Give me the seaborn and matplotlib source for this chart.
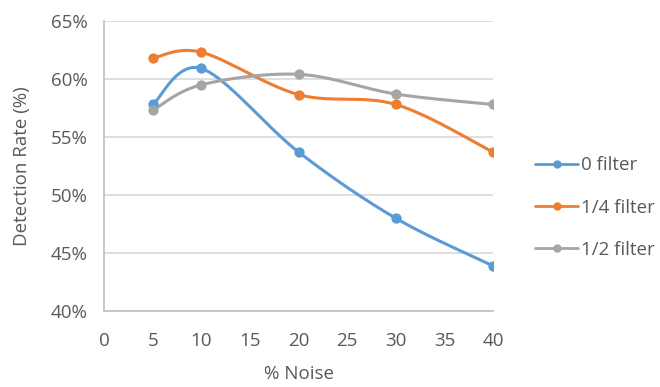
import numpy as np
import pandas as pd
import matplotlib
matplotlib.use("Agg")
import matplotlib.pyplot as plt
from matplotlib.lines import Line2D
import seaborn as sns

noise = [5, 10, 20, 30, 40]
filter_0 = [57.8, 60.9, 53.7, 48.0, 43.9]
filter_quarter = [61.8, 62.3, 58.65, 57.8, 53.7]
filter_half = [57.3, 59.5, 60.4, 58.7, 57.8]
series_names = ["0 filter", "1/4 filter", "1/2 filter"]
colors = ["#5B9BD5", "#ED7D31", "#A5A5A5"]
y_ticks = [40, 45, 50, 55, 60, 65]
x_ticks = [0, 5, 10, 15, 20, 25, 30, 35, 40]


def smooth(xs, ys, n=40):
    """Excel-like smoothed line: cubic Bezier segments with 1/6 tangents."""
    P = np.column_stack([xs, ys]).astype(float)
    out = []
    m = len(P)
    for i in range(m - 1):
        p0 = P[i - 1] if i > 0 else P[i]
        p1 = P[i]
        p2 = P[i + 1]
        p3 = P[i + 2] if i + 2 < m else P[i + 1]
        c1 = p1 + (p2 - p0) / 6.0
        c2 = p2 - (p3 - p1) / 6.0
        t = np.linspace(0, 1, n)[:, None]
        seg = ((1 - t) ** 3) * p1 + 3 * ((1 - t) ** 2) * t * c1 + 3 * (1 - t) * t ** 2 * c2 + t ** 3 * p2
        if i > 0:
            seg = seg[1:]
        out.append(seg)
    out = np.vstack(out)
    return out[:, 0], out[:, 1]


sns.set_theme(style="white")
plt.rcParams["font.family"] = ["Open Sans", "DejaVu Sans"]

fig = plt.figure(figsize=(6.6, 3.87), dpi=100)
ax = fig.add_axes([0.158, 0.196, 0.589, 0.75])

handles = []
for name, vals, col in zip(series_names, [filter_0, filter_quarter, filter_half], colors):
    sx, sy = smooth(noise, vals)
    df = pd.DataFrame({"x": sx, "y": sy})
    sns.lineplot(data=df, x="x", y="y", ax=ax, color=col, linewidth=2.2, sort=False,
                 estimator=None, legend=False, zorder=3)
    pts = pd.DataFrame({"x": noise, "y": vals})
    sns.scatterplot(data=pts, x="x", y="y", ax=ax, color=col, s=55, edgecolor=col,
                    linewidth=0, legend=False, zorder=4)
    handles.append(Line2D([0], [0], color=col, linewidth=2.0, marker="o", markersize=5,
                          label=name))

ax.set_xlim(0, 40)
ax.set_ylim(40, 65)
ax.set_xticks(x_ticks)
ax.set_yticks(y_ticks)
ax.set_yticklabels([f"{v}%" for v in y_ticks])
ax.yaxis.grid(True, color="#D9D9D9", linewidth=1.2)
ax.xaxis.grid(False)
for s in ["top", "right"]:
    ax.spines[s].set_visible(False)
for s in ["left", "bottom"]:
    ax.spines[s].set_color("#BFBFBF")
    ax.spines[s].set_linewidth(1.2)
ax.tick_params(axis="x", which="major", direction="inout", length=8, width=1.2,
               color="#BFBFBF", labelsize=13.5, labelcolor="#595959", pad=11)
ax.tick_params(axis="y", length=0, labelsize=13.5, labelcolor="#595959", pad=12)
ax.set_xlabel("% Noise", fontsize=13.5, color="#595959", labelpad=11)
ax.set_ylabel("Detection Rate (%)", fontsize=13.5, color="#595959", labelpad=14)

ax.legend(handles=handles, loc="center left", bbox_to_anchor=(1.065, 0.357), frameon=False,
          fontsize=13.5, labelcolor="#595959", handlelength=2.3, handletextpad=0.15,
          labelspacing=1.3)

fig.savefig("out.png", dpi=100)
